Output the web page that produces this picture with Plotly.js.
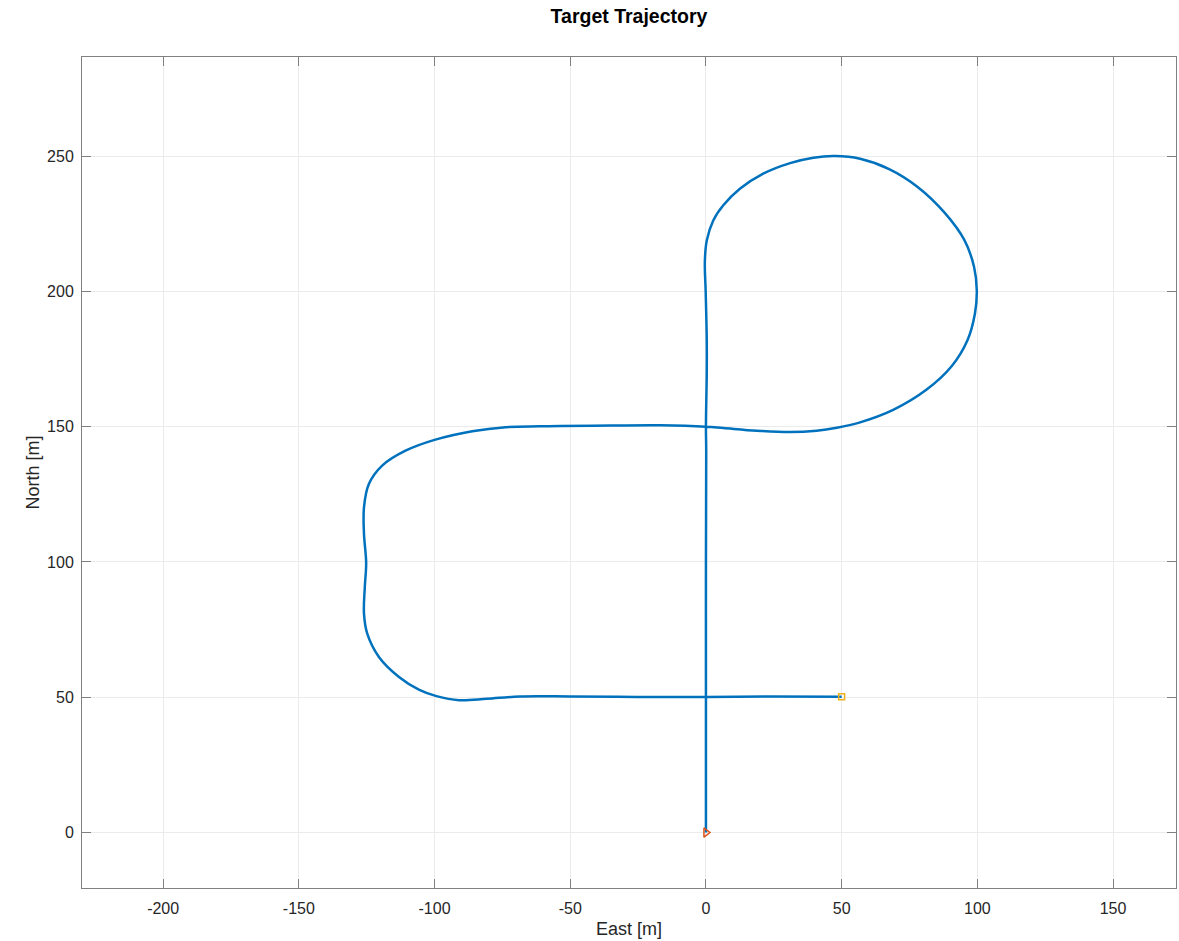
<!DOCTYPE html>
<html>
<head>
<meta charset="utf-8">
<script src="https://cdn.plot.ly/plotly-3.0.1.min.js"></script>
<style>html,body{margin:0;padding:0;background:#fff;}#plot{width:1179px;height:941px;}</style>
</head>
<body>
<div id="plot"></div>
<script>
// Trajectory (East, North in metres)
const eastPts = [0, 0, 0, 0, 0.1, 0, 0.3, 0.3, -0.1, -0.4, 0.3, 2.7, 6.4, 12.5, 21.1, 31, 39.6, 47.5, 56.8, 67.5, 78, 88, 95.2, 98.8, 99.8, 99.1, 96.4, 90.6, 81.2, 69, 56.5, 48.2, 40.8, 31, 18.7, 6.4, 0, -16.8, -35, -53.6, -61.5, -73.8, -86.1, -100, -110.7, -119.3, -124.2, -126, -126, -125.2, -125.7, -126, -124.8, -120.5, -113.1, -105.6, -99.3, -91, -80.8, -68.6, -50.1, -25.6, 0, 23.6, 50];
const northPts = [0, 25, 50, 100, 141, 150, 170, 182, 200, 211, 218.8, 226.2, 231.8, 237.9, 243.5, 247.4, 249.4, 250, 249, 245.2, 238.6, 229, 219, 209, 200.3, 191.7, 182, 172.4, 163.6, 156.2, 151.5, 149.6, 148.5, 148, 148.5, 149.5, 150, 150.5, 150.4, 150.2, 150.1, 149.8, 148.3, 145.1, 141.1, 135.6, 128.8, 120.2, 110.4, 99.7, 90.7, 80.9, 73.5, 64.9, 57.5, 52.7, 50.4, 48.9, 49.4, 50.3, 50.3, 50.1, 50.1, 50.3, 50.2];
const xTicks = [-200, -150, -100, -50, 0, 50, 100, 150];
const yTicks = [0, 50, 100, 150, 200, 250];

const n = eastPts.length;
const FONT = 'Liberation Sans, Arial, Helvetica, sans-serif';
const traces = [
  {x: eastPts, y: northPts, type: 'scatter', mode: 'lines',
   line: {color: '#0072BD', width: 2.5, shape: 'spline', smoothing: 1}, hoverinfo: 'skip'},
  {x: [eastPts[0]], y: [northPts[0]], type: 'scatter', mode: 'markers',
   marker: {symbol: 'triangle-right-open', size: 8, color: '#D95319', line: {width: 1.5, color: '#D95319'}}},
  {x: [eastPts[n-1]], y: [northPts[n-1]], type: 'scatter', mode: 'markers',
   marker: {symbol: 'square-open', size: 6, color: '#EDB120', line: {width: 1.5, color: '#EDB120'}}}
];

const axisCommon = {
  showgrid: true, gridcolor: '#ebebeb', gridwidth: 1,
  zeroline: false, showline: true, linecolor: '#808080', linewidth: 1,
  mirror: 'ticks', ticks: 'inside', ticklen: 9, tickcolor: '#808080', tickwidth: 1,
  tickfont: {family: FONT, size: 16, color: '#262626'},
  fixedrange: true
};

const layout = {
  width: 1179, height: 941,
  margin: {l: 82, r: 3, t: 57, b: 53},
  paper_bgcolor: '#ffffff', plot_bgcolor: '#ffffff',
  showlegend: false,
  title: {text: '<b>Target Trajectory</b>', x: 0.5, xref: 'paper', y: 1 - 16/941, yref: 'container', yanchor: 'middle',
          font: {family: FONT, size: 19.5, color: '#000000'}},
  xaxis: Object.assign({}, axisCommon, {
    range: [-229.9, 173.2], tickvals: xTicks, ticktext: xTicks.map(String), ticklabelstandoff: 6,
    title: {text: 'East [m]', standoff: 6, font: {family: FONT, size: 18, color: '#262626'}}
  }),
  yaxis: Object.assign({}, axisCommon, {
    range: [-20.5, 286.6], tickvals: yTicks, ticktext: yTicks.map(String), ticklabelstandoff: 4,
    title: {text: 'North [m]', standoff: 2, font: {family: FONT, size: 18, color: '#262626'}}
  })
};

Plotly.newPlot('plot', traces, layout, {displayModeBar: false, staticPlot: true});
</script>
</body>
</html>
